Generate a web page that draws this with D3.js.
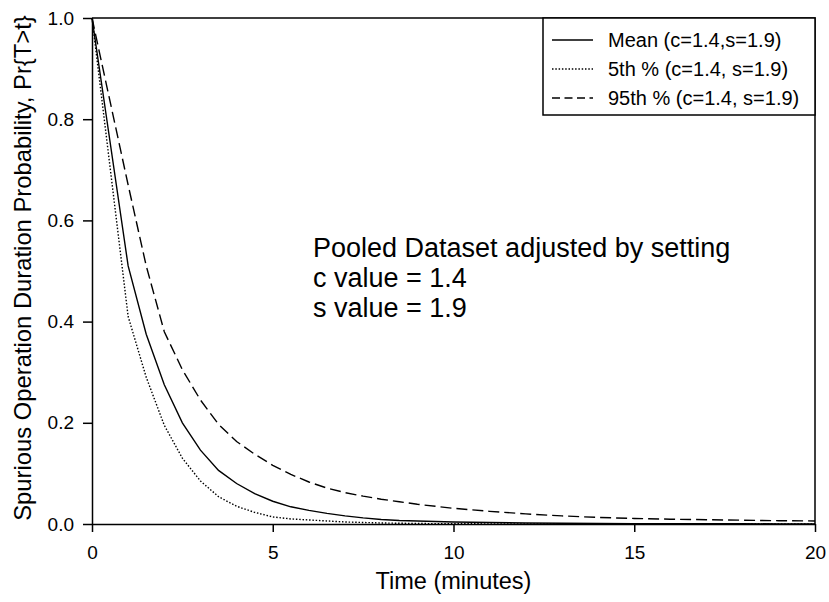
<!DOCTYPE html>
<html>
<head>
<meta charset="utf-8">
<script src="https://cdn.jsdelivr.net/npm/d3@7"></script>
<style>
    body { margin: 0; background: #fff; }
    svg { font-family: Arial, "Liberation Sans", sans-serif; }
</style>
</head>
<body>
<div id="container"></div>
<script>
// time axis (minutes)
const timeMin = [0, 1, 1.5, 2, 2.5, 3, 3.5, 4, 4.5, 5, 5.5, 6, 6.5, 7, 7.5, 8, 8.5, 9, 9.5, 10,
    11, 12, 13, 14, 15, 16, 17, 18, 19, 20];

// Pr{T>t} for the three curves
const meanProb = [1.0, 0.51, 0.375, 0.275, 0.20, 0.146, 0.106, 0.080, 0.060, 0.045,
    0.034, 0.027, 0.021, 0.016, 0.012, 0.009, 0.007, 0.006, 0.005, 0.004,
    0.003, 0.002, 0.0015, 0.001, 0.0008, 0.0006, 0.0005, 0.0004, 0.0003, 0.0002];
const p5Prob = [1.0, 0.41, 0.29, 0.195, 0.13, 0.085, 0.054, 0.035, 0.023, 0.014,
    0.010, 0.008, 0.006, 0.004, 0.003, 0.002, 0.0015, 0.001, 0.0007, 0.0005,
    0.0003, 0.0002, 0.0001, 0.0001, 0, 0, 0, 0, 0, 0];
const p95Prob = [1.0, 0.67, 0.51, 0.38, 0.305, 0.245, 0.197, 0.163, 0.138, 0.116,
    0.098, 0.083, 0.071, 0.062, 0.055, 0.049, 0.044, 0.039, 0.035, 0.031,
    0.025, 0.020, 0.016, 0.013, 0.011, 0.0095, 0.0085, 0.0075, 0.0065, 0.006];

const seriesNames = ["Mean (c=1.4,s=1.9)", "5th % (c=1.4, s=1.9)", "95th % (c=1.4, s=1.9)"];
const xTicks = [0, 5, 10, 15, 20];
const yTicks = [0, 0.2, 0.4, 0.6, 0.8, 1.0];
const noteLines = ["Pooled Dataset adjusted by setting", "c value = 1.4", "s value = 1.9"];

const width = 829, height = 602;
const margin = {top: 18, right: 14, bottom: 78, left: 92};

const svg = d3.select("#container")
    .append("svg")
    .attr("width", width)
    .attr("height", height);

const x = d3.scaleLinear().domain([0, 20]).range([margin.left, width - margin.right]);
const y = d3.scaleLinear().domain([0, 1]).range([height - margin.bottom, margin.top]);

// frame (top + right edges, no ticks)
svg.append("path")
    .attr("d", `M${x(0)},${y(1)}H${x(20)}V${y(0)}`)
    .attr("fill", "none")
    .attr("stroke", "#000")
    .attr("stroke-width", 1.5);

const xAxis = svg.append("g")
    .attr("transform", `translate(0,${y(0)})`)
    .call(d3.axisBottom(x).tickValues(xTicks).tickSize(8).tickSizeOuter(0).tickPadding(14));

const yAxis = svg.append("g")
    .attr("transform", `translate(${x(0)},0)`)
    .call(d3.axisLeft(y).tickValues(yTicks).tickFormat(d3.format(".1f")).tickSize(9).tickSizeOuter(0).tickPadding(9));

[xAxis, yAxis].forEach(g => {
    g.select(".domain").attr("stroke-width", 1.5);
    g.selectAll(".tick line").attr("stroke-width", 1.5);
    g.selectAll(".tick text").attr("font-size", 19).attr("fill", "#000");
    g.attr("font-family", null);
});

// axis titles
svg.append("text")
    .attr("x", (x(0) + x(20)) / 2)
    .attr("y", 589)
    .attr("text-anchor", "middle")
    .attr("font-size", 23.5)
    .text("Time (minutes)");

svg.append("text")
    .attr("transform", `translate(31,${(y(0) + y(1)) / 2 - 3}) rotate(-90)`)
    .attr("text-anchor", "middle")
    .attr("font-size", 23.8)
    .text("Spurious Operation Duration Probability, Pr{T>t}");

// curves
const styles = [
    {data: meanProb, dash: null, legendDash: null},
    {data: p5Prob, dash: "1.5,1.8", legendDash: "1.5,1.8"},
    {data: p95Prob, dash: "11,5", legendDash: "8,4.5"}
];

const line = d3.line()
    .x(d => x(d[0]))
    .y(d => y(d[1]));

styles.forEach(s => {
    svg.append("path")
        .datum(timeMin.map((t, i) => [t, s.data[i]]))
        .attr("d", line)
        .attr("fill", "none")
        .attr("stroke", "#000")
        .attr("stroke-width", 1.4)
        .attr("stroke-dasharray", s.dash);
});

// legend
const legend = svg.append("g");
legend.append("rect")
    .attr("x", 543)
    .attr("y", y(1))
    .attr("width", x(20) - 543)
    .attr("height", 97)
    .attr("fill", "#fff")
    .attr("stroke", "#000")
    .attr("stroke-width", 1.5);

seriesNames.forEach((name, i) => {
    const yy = 40 + i * 29;
    legend.append("line")
        .attr("x1", 552).attr("x2", 593)
        .attr("y1", yy).attr("y2", yy)
        .attr("stroke", "#000")
        .attr("stroke-width", 1.4)
        .attr("stroke-dasharray", styles[i].legendDash);
    legend.append("text")
        .attr("x", 608)
        .attr("y", yy + 7)
        .attr("font-size", 20)
        .text(name);
});

// annotation
svg.append("text")
    .attr("font-size", 27)
    .selectAll("tspan")
    .data(noteLines)
    .enter()
    .append("tspan")
    .attr("x", 313)
    .attr("y", (d, i) => 257 + i * 30)
    .text(d => d);
</script>
</body>
</html>
